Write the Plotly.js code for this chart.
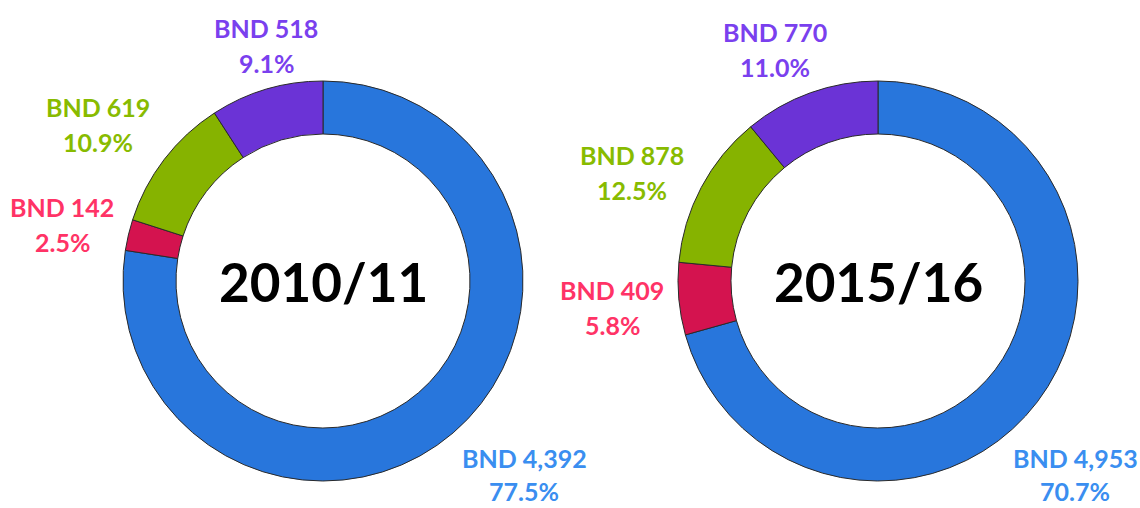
<!DOCTYPE html>
<html>
<head>
<meta charset="utf-8">
<script src="https://cdn.plot.ly/plotly-3.0.1.min.js"></script>
<style>html,body{margin:0;padding:0;background:#fff;}#chart{width:1140px;height:508px;}</style>
</head>
<body>
<div id="chart"></div>
<script>
// Data
var categories = ["Blue", "Red", "Green", "Purple"];
var years = ["2010/11", "2015/16"];
var values2010 = [4392, 142, 619, 518];
var values2015 = [4953, 409, 878, 770];
var pct2010 = ["77.5%", "2.5%", "10.9%", "9.1%"];
var pct2015 = ["70.7%", "5.8%", "12.5%", "11.0%"];

// Styles
var sliceColors = ["#2876dc", "#d4134f", "#86b300", "#6b33d6"];
var labelColors = ["#3a8ef0", "#ff3366", "#88bb00", "#7a40ee"];
var W = 1140, H = 508;
var FONT = "Lato, 'Open Sans', sans-serif";

// pixel geometry for the two donuts (center x, center y, radius)
var donuts = [
  {cx: 323, cy: 281, r: 200},
  {cx: 878, cy: 281, r: 200}
];
// label pixel positions: [x, first line y, gap to second line]
var labelPos = [
  [[524, 458, 33], [62, 207, 35], [98, 107, 35], [266, 28, 35]],
  [[1075, 458, 33], [612, 290, 35], [632, 155, 35], [775, 32, 35]]
];

function fmt(n) { return n.toLocaleString("en-US"); }

var allValues = [values2010, values2015];
var allPct = [pct2010, pct2015];

var traces = donuts.map(function (d, i) {
  return {
    type: "pie",
    values: allValues[i],
    labels: categories,
    sort: false,
    direction: "clockwise",
    rotation: 0,
    hole: 0.735,
    textinfo: "none",
    hoverinfo: "none",
    showlegend: false,
    marker: {colors: sliceColors, line: {color: "#2a2a2a", width: 1}},
    domain: {
      x: [(d.cx - d.r) / W, (d.cx + d.r) / W],
      y: [1 - (d.cy + d.r) / H, 1 - (d.cy - d.r) / H]
    }
  };
});

var annotations = [];
donuts.forEach(function (d, i) {
  annotations.push({
    x: d.cx / W, y: 1 - d.cy / H, xref: "paper", yref: "paper",
    text: "<b>" + years[i] + "</b>", showarrow: false,
    xanchor: "center", yanchor: "middle",
    font: {family: FONT, size: 53, color: "#000"}
  });
  categories.forEach(function (c, k) {
    var p = labelPos[i][k];
    annotations.push({
      x: p[0] / W, y: 1 - p[1] / H, xref: "paper", yref: "paper",
      text: "<b>BND " + fmt(allValues[i][k]) + "</b>", showarrow: false,
      xanchor: "center", yanchor: "middle",
      font: {family: FONT, size: 25, color: labelColors[k]}
    });
    annotations.push({
      x: p[0] / W, y: 1 - (p[1] + p[2]) / H, xref: "paper", yref: "paper",
      text: "<b>" + allPct[i][k] + "</b>", showarrow: false,
      xanchor: "center", yanchor: "middle",
      font: {family: FONT, size: 25, color: labelColors[k]}
    });
  });
});

var layout = {
  width: W, height: H,
  margin: {l: 0, r: 0, t: 0, b: 0},
  paper_bgcolor: "#ffffff",
  plot_bgcolor: "#ffffff",
  showlegend: false,
  annotations: annotations
};

Plotly.newPlot("chart", traces, layout, {displayModeBar: false, staticPlot: true});
</script>
</body>
</html>
